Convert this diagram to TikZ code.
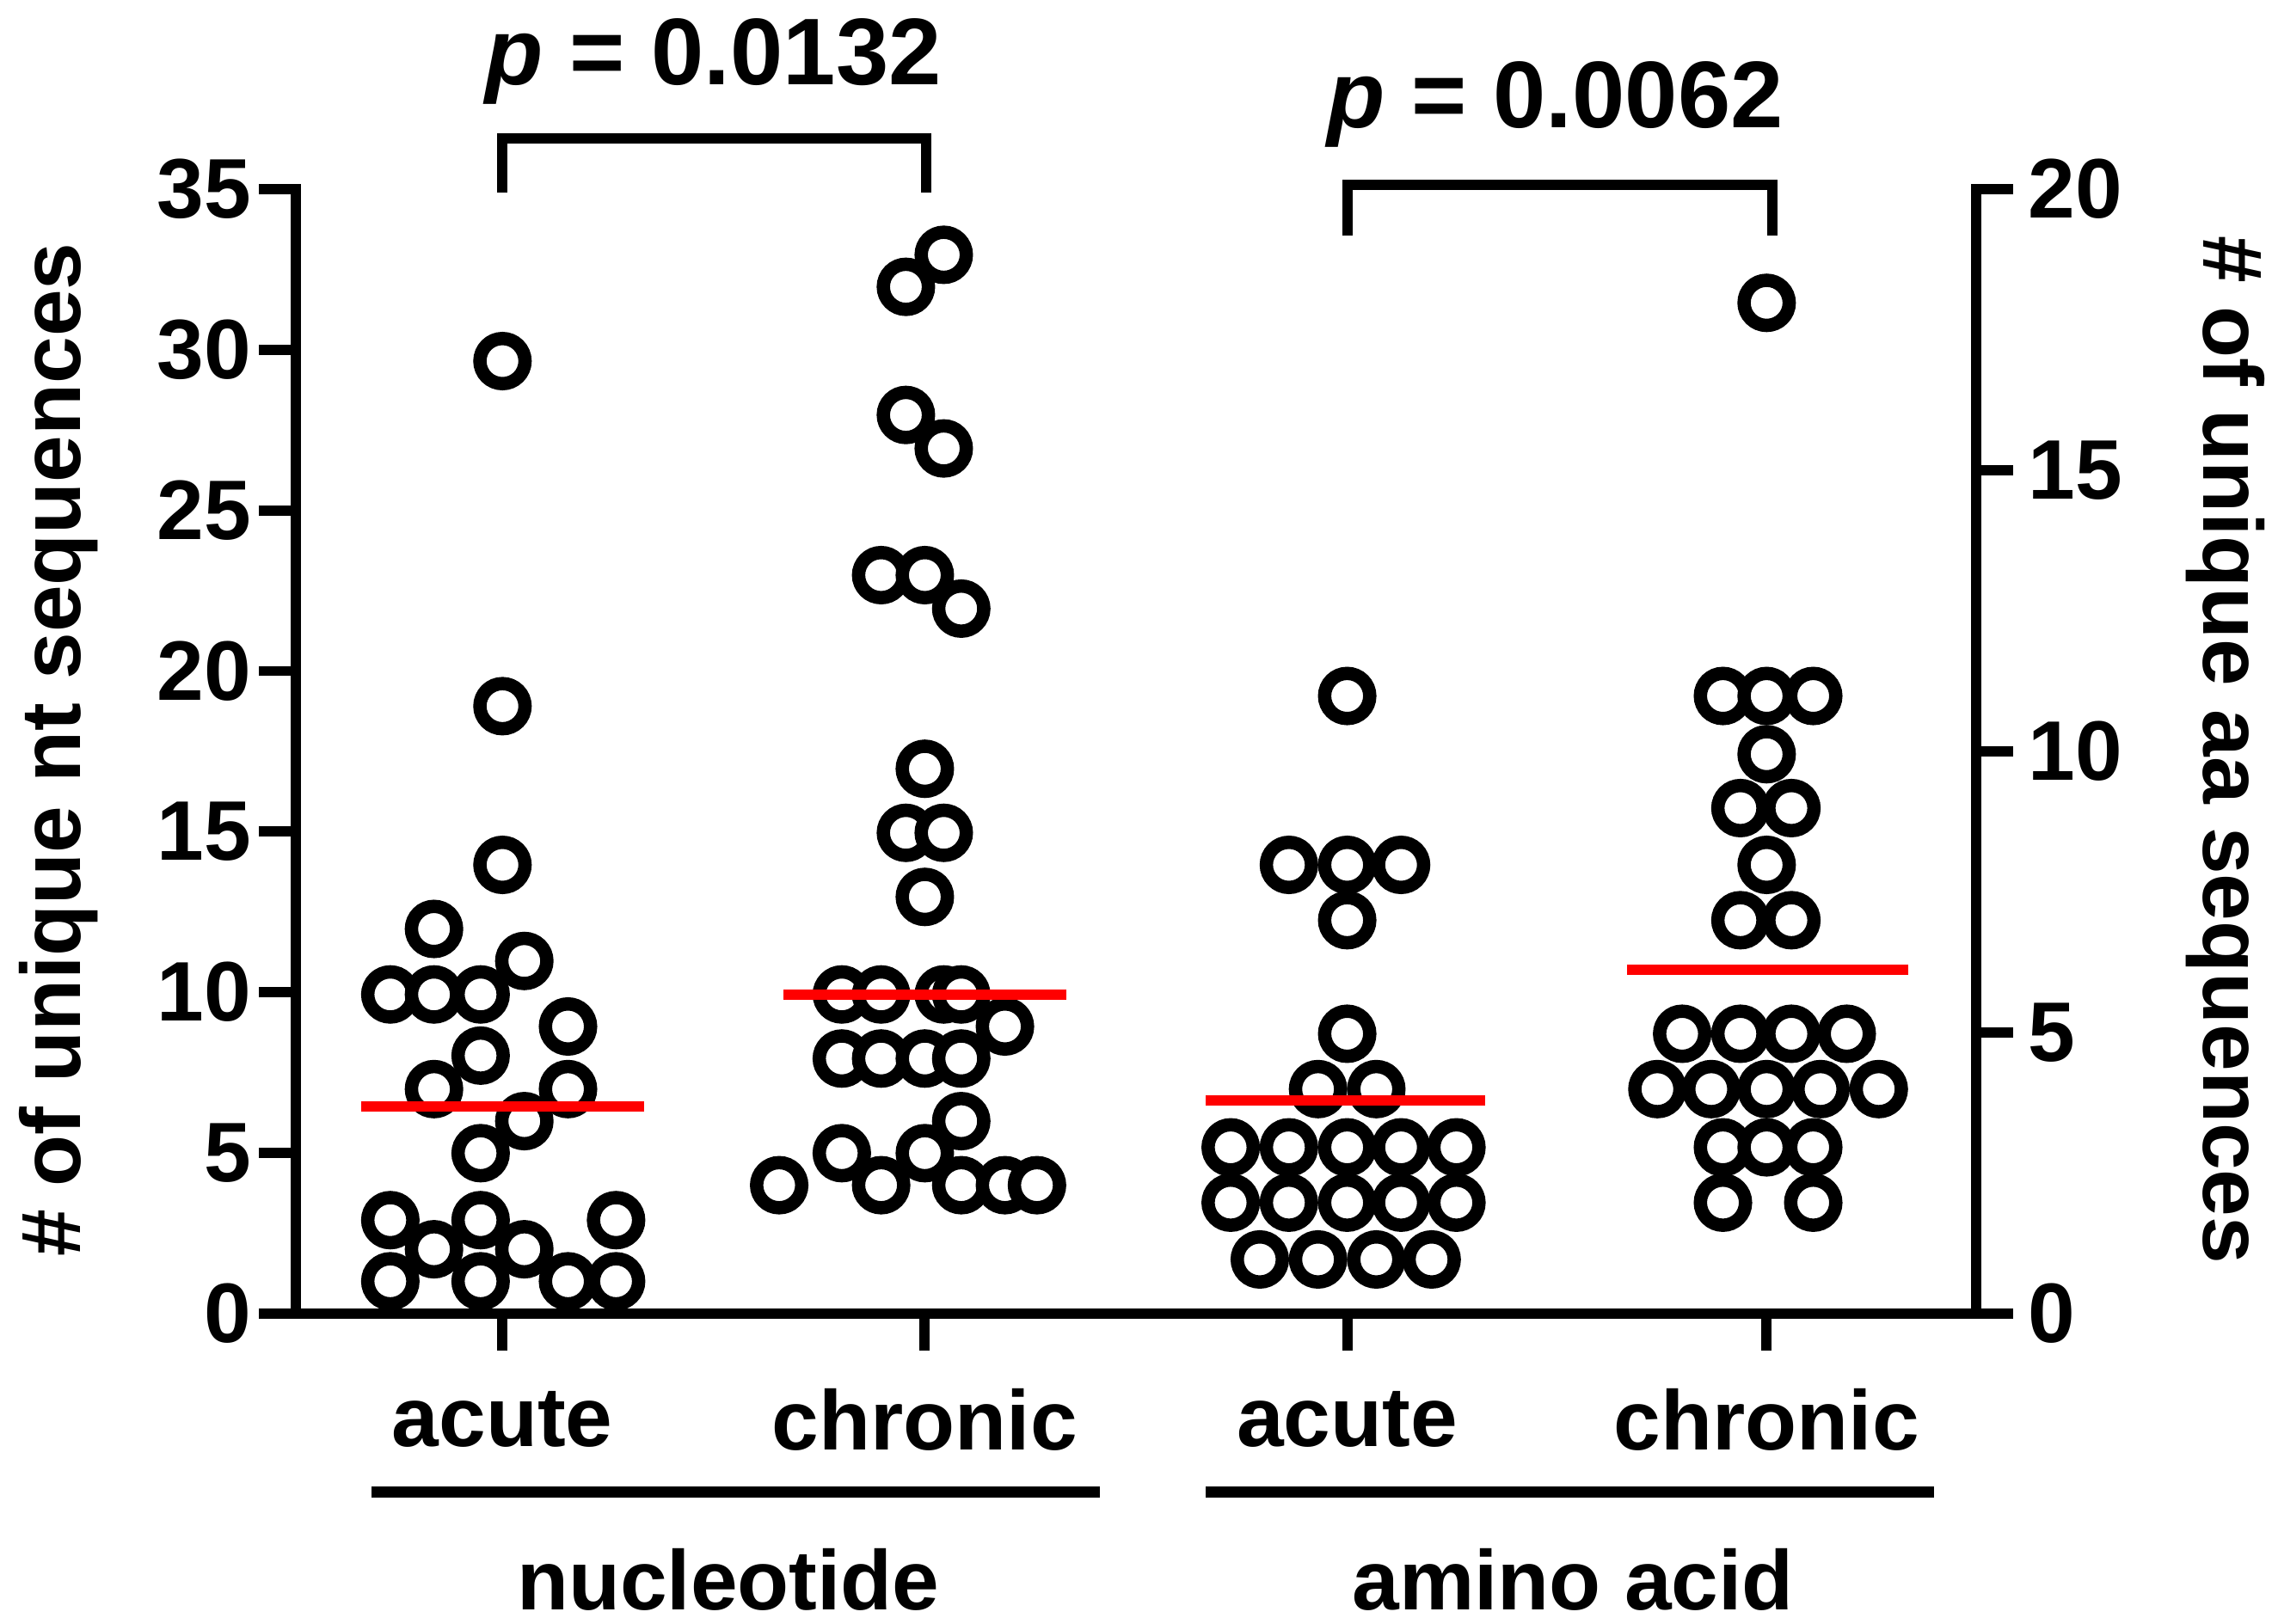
\documentclass[tikz,border=0pt]{standalone}
\usepackage{fontspec}
\setmainfont{Liberation Sans}
\begin{document}
\begin{tikzpicture}[x=0.01cm,y=-0.01cm,
  ax/.style={line width=2pt,line cap=rect},
  pt/.style={draw,line width=2.6pt,fill=white,circle,minimum size=0.31cm,inner sep=0},
  mean/.style={red,line width=2pt},
  lbl/.style={font=\bfseries\fontsize{16.5}{20}\selectfont,inner sep=0}]
\useasboundingbox (0,0) rectangle (1560,1115);
% axes
\draw[ax] (203,130) -- (203,902) -- (1357,902) -- (1357,130);
\foreach \v in {0,5,...,35}{
  \coordinate (l\v) at (203,{902-22.057*\v});
  \draw[ax] (l\v) -- ++(-22,0);
  \node[lbl,anchor=east] at ([xshift=-0.3cm]l\v) {\v};}
\foreach \v in {0,5,10,15,20}{
  \coordinate (r\v) at (1357,{902-38.6*\v});
  \draw[ax] (r\v) -- ++(22,0);
  \node[lbl,anchor=west] at ([xshift=0.35cm]r\v) {\v};}
\foreach \x/\t in {345/acute,635/chronic,925/acute,1213/chronic}{
  \coordinate (c\x) at (\x,902);
  \draw[ax] (c\x) -- ++(0,22);
  \node[lbl] at (\x,975) {\t};}
\node[lbl,rotate=90] at (40,515) {\# of unique nt sequences};
\node[lbl,rotate=-90] at (1528,515) {\# of unique aa sequences};
% group lines
\draw[line width=2.2pt] (255,1025) -- (755,1025);
\draw[line width=2.2pt] (828,1025) -- (1328,1025);
\node[lbl] at (500,1085) {nucleotide};
\node[lbl] at (1080,1085) {amino acid};
% brackets
\draw[ax,line cap=butt] (345,132) -- (345,95) -- (636,95) -- (636,132);
\draw[ax,line cap=butt] (925,162) -- (925,127) -- (1217,127) -- (1217,162);
\node[font=\bfseries\fontsize{18.5}{22}\selectfont] at (490,42) {\textit{p} = 0.0132};
\node[font=\bfseries\fontsize{18.5}{22}\selectfont] at (1068,72) {\textit{p} = 0.0062};
% points
\foreach \x/\y in {345/248,345/485,345/594,298/638,360/660,268/683,298/683,330/683,330/725,390/705,298/748,390/748,360/770,330/792,268/838,330/838,423/838,298/858,360/858,268/880,330/880,390/880,423/880,
648/175,622/197,622/285,648/308,605/395,635/395,660/418,635/528,622/572,648/572,635/616,578/683,605/683,648/683,660/683,690/705,578/727,605/727,635/727,660/727,660/770,578/792,635/792,535/814,605/814,660/814,690/814,712/814,
925/478,885/594,925/594,962/594,925/632,925/710,905/748,945/748,845/788,885/788,925/788,962/788,1000/788,845/826,885/826,925/826,962/826,1000/826,865/865,905/865,945/865,983/865,
1213/208,1183/478,1213/478,1245/478,1213/518,1195/555,1230/555,1213/594,1195/632,1230/632,1155/710,1195/710,1230/710,1268/710,1138/748,1175/748,1213/748,1250/748,1290/748,1183/788,1245/788,1213/788,1183/826,1245/826}
  \node[pt] at (\x,\y) {};
% means
\draw[mean] (248,760) -- (442,760);
\draw[mean] (538,683) -- (732,683);
\draw[mean] (828,756) -- (1020,756);
\draw[mean] (1117,666) -- (1310,666);
\end{tikzpicture}
\end{document}
